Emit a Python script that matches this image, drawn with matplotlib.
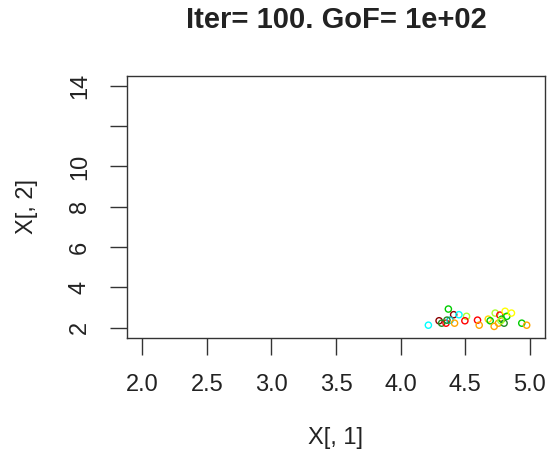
import matplotlib.pyplot as plt

plt.rcParams['font.family'] = ['Liberation Sans', 'DejaVu Sans']

# point coordinates of the current iteration and their colours
x1 = [4.216, 4.299, 4.319, 4.353, 4.371, 4.412, 4.384, 4.453, 4.419, 4.512,
      4.499, 4.597, 4.610, 4.680, 4.695, 4.734, 4.726, 4.770, 4.759, 4.785,
      4.803, 4.811, 4.824, 4.860, 4.778, 4.940, 4.978, 4.360]
x2 = [2.13, 2.35, 2.23, 2.23, 2.93, 2.65, 2.38, 2.65, 2.23, 2.57,
      2.35, 2.38, 2.13, 2.43, 2.35, 2.73, 2.07, 2.63, 2.23, 2.43,
      2.23, 2.82, 2.57, 2.73, 2.35, 2.23, 2.13, 2.38]
cols = ['#00FFFF', '#8B0000', '#228B22', '#FF0000', '#00CD00', '#8B0000',
        '#00CDCD', '#00FFFF', '#FFA500', '#ADFF2F', '#FF0000', '#FF0000',
        '#FFA500', '#FFD700', '#00CD00', '#ADFF2F', '#FFA500', '#FF0000',
        '#FFA500', '#00CD00', '#228B22', '#FFFF00', '#00CD00', '#FFFF00',
        '#ADFF2F', '#00CD00', '#FFA500', '#228B22']

xticks = [2.0, 2.5, 3.0, 3.5, 4.0, 4.5, 5.0]
yticks = [2, 4, 6, 8, 10, 12, 14]
ylabels = ['2', '4', '6', '8', '10', '', '14']

W, H = 550, 454
fig = plt.figure(figsize=(W / 100, H / 100), dpi=100)
L, R, T, B = 127, 545, 76, 337.5
ax = fig.add_axes([L / W, 1 - B / H, (R - L) / W, (B - T) / H])

ax.scatter(x1, x2, s=20, facecolors='none', edgecolors=cols, linewidths=1.0)

ax.set_xlim(2 - 0.12, 5 + 0.12)
ax.set_ylim(2 - 0.48, 14 + 0.48)
ax.set_xticks(xticks)
ax.set_xticklabels(['%.1f' % t for t in xticks])
ax.set_yticks(yticks)
ax.set_yticklabels(ylabels, rotation=90, va='center')

ink = '#222222'
for s in ax.spines.values():
    s.set_linewidth(1.0)
    s.set_color('#333333')
ax.tick_params(length=12, width=1.0, color='#333333', labelsize=17,
               labelcolor=ink, pad=14)

# axis titles sit about 100 px out from the box
ax.set_xlabel('X[, 1]', fontsize=17, color=ink)
ax.xaxis.set_label_coords(0.5, -100.5 / (B - T))
ax.xaxis.label.set_va('center')
ax.set_ylabel('X[, 2]', fontsize=17, color=ink)
ax.yaxis.set_label_coords(-100 / (R - L), 0.5)
ax.yaxis.label.set_va('center')

fig.text((L + R) / 2 / W, 1 - 20 / H, 'Iter= 100. GoF= 1e+02', fontsize=21,
         fontweight='bold', color=ink, ha='center', va='center')

fig.savefig('out.png', dpi=100)
